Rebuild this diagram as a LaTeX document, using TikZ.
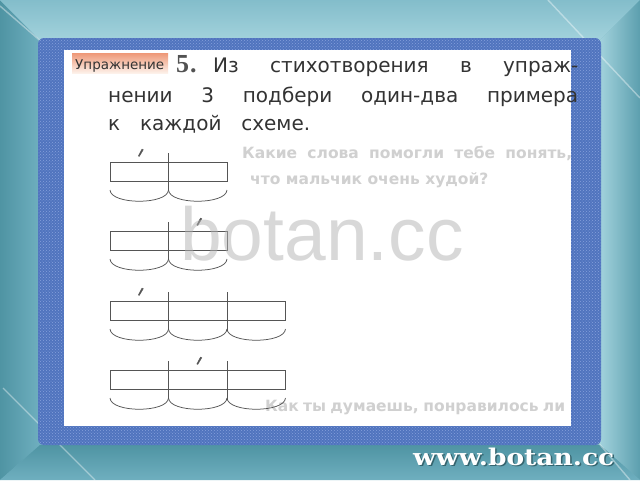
\documentclass[tikz,border=0pt]{standalone}
\usepackage{fontspec}
\setmainfont{DejaVu Sans}
\newfontfamily\numfont{Liberation Serif}
\newfontfamily\markfont{Liberation Sans}
\newfontfamily\sitefont{DejaVu Serif}
\usetikzlibrary{patterns}

\definecolor{framedark}{HTML}{4F94A3}
\definecolor{framemid}{HTML}{6FAFBF}
\definecolor{framelight}{HTML}{A2D2DC}
\definecolor{cloth}{HTML}{5074BE}
\definecolor{clothdot}{HTML}{86A0DC}
\definecolor{inktext}{HTML}{333333}
\definecolor{schemeink}{HTML}{555555}
\definecolor{bannertop}{HTML}{EE9877}
\definecolor{bannerbot}{HTML}{FDF1EA}
\definecolor{ghost}{HTML}{D0D0D0}
\definecolor{sitedark}{HTML}{35646E}

\begin{document}
\begin{tikzpicture}
		[x=1pt,y=-1pt,
		schemeline/.style={draw=schemeink,line width=0.75pt},
		stressmark/.style={fill=schemeink,draw=schemeink,line width=0.3pt},
		tasktext/.style={anchor=base west,inner sep=0pt,text=inktext,font=\fontsize{20}{24}\selectfont},
		ghosttext/.style={anchor=base west,inner sep=0pt,text=ghost,font=\bfseries\fontsize{15.5}{19}\selectfont},
		glint/.style={draw=white,opacity=0.4,line width=1.4pt}]
		\useasboundingbox (0,0) rectangle (640,480);
		% frame
		\fill[framemid] (0,0) rectangle (640,480);
		\shade[left color=framedark,middle color=framelight,right color=framemid]
			(0,0) -- (40,40) -- (40,445) -- (0,480) -- cycle;
		\shade[top color=framemid!60!framelight,middle color=framedark!60!framemid,bottom color=framelight]
			(0,0) -- (640,0) -- (600,40) -- (40,40) -- cycle;
		\shade[left color=framelight,middle color=framemid!70!framelight,right color=framedark!60!framemid]
			(640,0) -- (640,480) -- (600,445) -- (600,40) -- cycle;
		\shade[top color=framedark,middle color=framelight,bottom color=framemid]
			(0,480) -- (40,445) -- (600,445) -- (640,480) -- cycle;
		\draw[glint] (0,6) -- (44,44);
		\draw[glint] (548,0) -- (640,98);
		\draw[glint] (3,388) -- (95,480);
		\draw[glint] (596,440) -- (630,480);
		% cloth and page
		\fill[cloth,rounded corners=6pt] (38,38) rectangle (601,445);
		\fill[pattern=crosshatch dots,pattern color=clothdot,rounded corners=6pt] (38,38) rectangle (601,445);
		\fill[white] (64,50) rectangle (571,426);
		% ghost text from the back page
		\node[ghosttext] (ghost1) at (242,158) {\makebox[330pt][s]{Какие слова помогли тебе понять,}};
		\node[ghosttext] (ghost2) at (250,184) {что мальчик очень худой?};
		\node[ghosttext] (ghost3) at (265,411) {\makebox[300pt][s]{Как ты думаешь, понравилось ли}};
		% task
		\shade[top color=bannertop,bottom color=bannerbot] (72,53) rectangle (168,73);
		\node[anchor=base west,inner sep=0pt,text=inktext,font=\fontsize{13.5}{16}\selectfont] (exlabel) at (75,69) {Упражнение};
		\node[anchor=base west,inner sep=0pt,text=inktext!85,font=\numfont\bfseries\fontsize{26}{28}\selectfont] (exnum) at (176,72) {5\kern1pt.};
		\node[tasktext] (line1) at (213,72) {\makebox[365pt][s]{Из стихотворения в упраж-}};
		\node[tasktext] (line2) at (108,102) {\makebox[470pt][s]{нении 3 подбери один-два примера}};
		\node[tasktext] (line3) at (108,130) {\makebox[202pt][s]{к каждой схеме.}};
		% schemes
		\foreach \ytop/\parts/\stressed in {162/2/1,231/2/2,301/3/1,370/3/2}
		{
			\draw[schemeline] (110,\ytop) rectangle ({110+58.5*\parts},\ytop+19);
			\pgfmathtruncatemacro\innerparts{\parts-1}
			\foreach \k in {1,...,\innerparts}
				\draw[schemeline] ({110+58.5*\k},\ytop-9) -- ({110+58.5*\k},\ytop+29);
			\foreach \k in {1,...,\parts}
				\draw[schemeline] ({110+58.5*(\k-1)},\ytop+28)
					.. controls ({111+58.5*(\k-1)},\ytop+43) and ({109+58.5*\k},\ytop+43) .. ({110+58.5*\k},\ytop+28);
			\pgfmathsetmacro\cx{111.5+58.5*(\stressed-0.5)}
			\fill[stressmark] (\cx-2.5,\ytop-6) -- (\cx+1.2,\ytop-13) -- (\cx+2.6,\ytop-12.3) -- (\cx-1.4,\ytop-5.6) -- cycle;
		}
		% watermarks
		\node[anchor=base west,inner sep=0pt,text=black!30,opacity=0.5,font=\markfont\fontsize{75}{80}\selectfont] (watermark) at (180,260) {botan.cc};
		\node[anchor=base west,inner sep=0pt,text=sitedark,font=\sitefont\bfseries\fontsize{23}{26}\selectfont] (siteshadow) at (414.5,466.5) {\scalebox{1.15}[1]{www.botan.cc}};
		\node[anchor=base west,inner sep=0pt,text=white,font=\sitefont\bfseries\fontsize{23}{26}\selectfont] (site) at (413,465) {\scalebox{1.15}[1]{www.botan.cc}};
		\end{tikzpicture}
\end{document}
